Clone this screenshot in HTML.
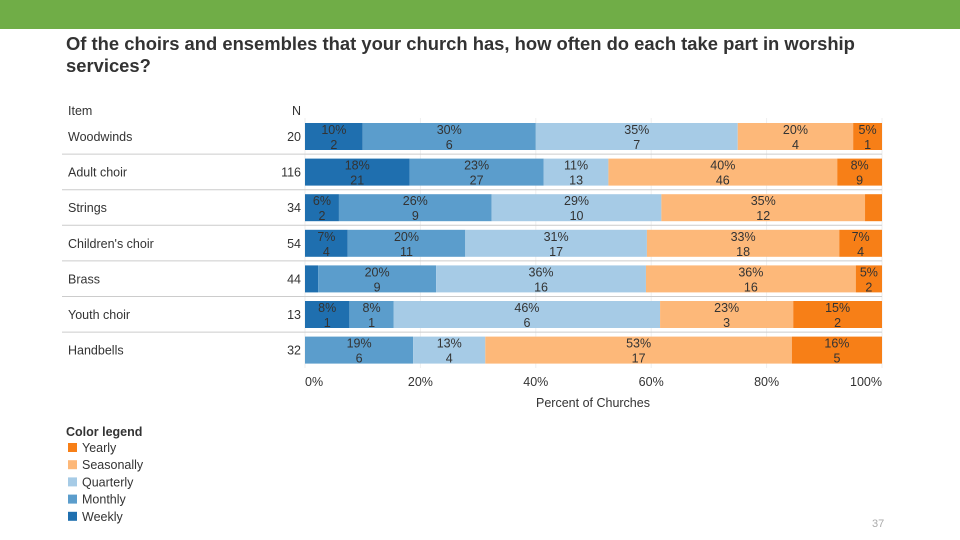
<!DOCTYPE html>
<html><head><meta charset="utf-8"><style>
body{margin:0;width:960px;height:540px;background:#fff;overflow:hidden;font-family:"Liberation Sans",sans-serif;position:relative}
.t{position:absolute;white-space:nowrap}
</style></head><body>
<div style="position:absolute;left:0;top:0;width:960px;height:29px;background:#70ad47"></div>
<div class="t" style="left:66px;top:33px;font-size:18.4px;font-weight:bold;color:#333;line-height:22px">Of the choirs and ensembles that your church has, how often do each take part in worship<br>services?</div>
<svg id="c" width="960" height="540" style="position:absolute;left:0;top:0" font-family="Liberation Sans, sans-serif"></svg>
<div class="t" style="left:872px;top:518px;font-size:11px;color:#aaa">37</div>
<script>
const items=["Woodwinds","Adult choir","Strings","Children's choir","Brass","Youth choir","Handbells"];
const totals=[20,116,34,54,44,13,32];
const weekly=[2,21,2,4,1,1,0];
const monthly=[6,27,9,11,9,1,6];
const quarterly=[7,13,10,17,16,6,4];
const seasonally=[4,46,12,18,16,3,17];
const yearly=[1,9,1,4,2,2,5];
const ticks=[0,20,40,60,80,100];
const seriesNames=["Weekly","Monthly","Quarterly","Seasonally","Yearly"];
const colors=["#1f6faf","#5b9dcc","#a6cbe6","#fdb879","#f77f17"];
const S=[weekly,monthly,quarterly,seasonally,yearly];
const svg=document.getElementById('c');const NS="http://www.w3.org/2000/svg";
const X0=305,X1=882;const x=p=>X0+(X1-X0)*p/100;
const rowY=i=>123+i*35.6;const BH=27;
function mk(t,a){const e=document.createElementNS(NS,t);for(const k in a)e.setAttribute(k,a[k]);svg.appendChild(e);return e;}
function tx(s,a){const e=mk('text',a);e.textContent=s;return e;}
ticks.forEach((t,i)=>{const g=mk('line',{x1:x(t),x2:x(t),y1:118,y2:368,stroke:'#eee'});
const anc=i===0?'start':(i===ticks.length-1?'end':'middle');
const l=tx(t+'%',{x:x(t),y:386,'font-size':12.5,fill:'#333','text-anchor':anc});});
let h=tx('Item',{x:68,y:115,'font-size':12.5,fill:'#333'});
h=tx('N',{x:301,y:115,'font-size':12.5,fill:'#333','text-anchor':'end'});
items.forEach((it,i)=>{const y=rowY(i);
if(i>0){const s=mk('line',{x1:62,x2:882,y1:y-4.5,y2:y-4.5,stroke:'#ccc'});}
let l=tx(it,{x:68,y:y+18,'font-size':12.5,fill:'#333'});
l=tx(totals[i],{x:301,y:y+18,'font-size':12.5,fill:'#333','text-anchor':'end'});
let cum=0;S.forEach((ser,k)=>{const v=ser[i];const p=100*v/totals[i];if(v<=0)return;
const r=mk('rect',{x:x(cum),y:y,width:x(cum+p)-x(cum),height:BH,fill:colors[k]});
if(p>=4){const cx=x(cum+p/2);
let a=tx(Math.round(p)+'%',{x:cx,y:y+11,'font-size':12.5,fill:'#333','text-anchor':'middle'});
a=tx(v,{x:cx,y:y+26,'font-size':12.5,fill:'#333','text-anchor':'middle'});}
cum+=p;});});
let at=tx('Percent of Churches',{x:593,y:407,'font-size':12.5,fill:'#333','text-anchor':'middle'});
let lt=tx('Color legend',{x:66,y:436,'font-size':12.5,'font-weight':'bold',fill:'#333'});
for(let k=4;k>=0;k--){const j=4-k;const y=443+j*17.2;
const r=mk('rect',{x:68,y:y,width:9,height:9,fill:colors[k]});
const t=tx(seriesNames[k],{x:82,y:y+9,'font-size':12.5,fill:'#333'});}
</script>
</body></html>
